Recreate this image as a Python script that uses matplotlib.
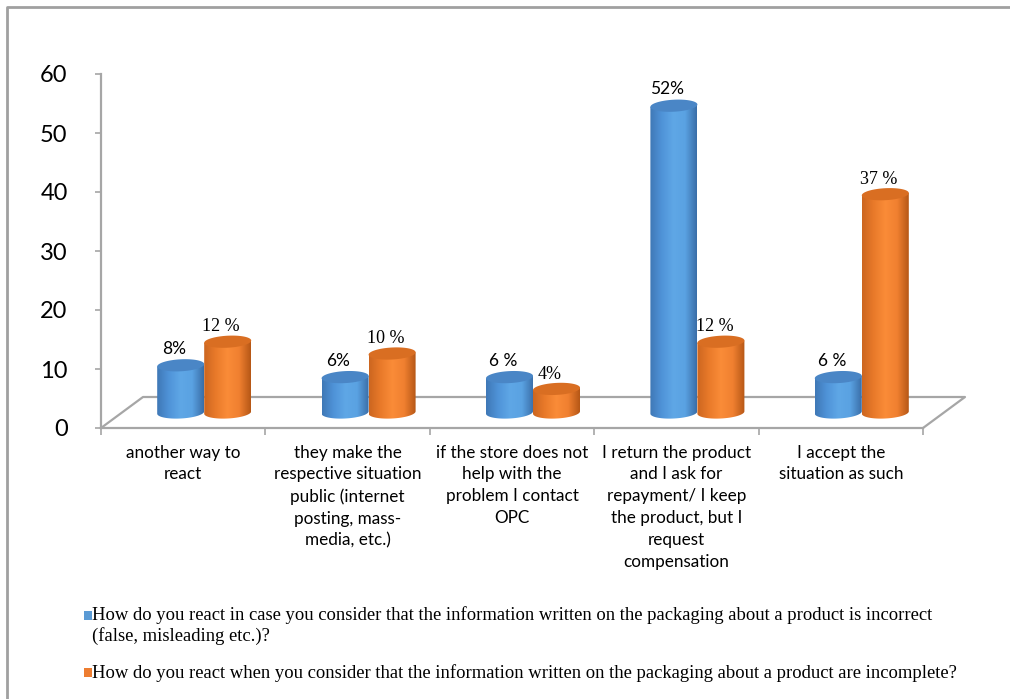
import numpy as np
import matplotlib
matplotlib.use("Agg")
import matplotlib.pyplot as plt
from matplotlib.patches import Polygon, Rectangle
from matplotlib.lines import Line2D
from matplotlib.colors import LinearSegmentedColormap

# Data
categories = ["another way to\nreact",
              "they make the\nrespective situation\npublic (internet\nposting, mass-\nmedia, etc.)",
              "if the store does not\nhelp with the\nproblem I contact\nOPC",
              "I return the product\nand I ask for\nrepayment/ I keep\nthe product, but I\nrequest\ncompensation",
              "I accept the\nsituation as such"]
incorrect = [8, 6, 6, 52, 6]
incomplete = [12, 10, 4, 12, 37]
incorrect_labels = ["8%", "6%", "6 %", "52%", "6 %"]
incomplete_labels = ["12 %", "10 %", "4%", "12 %", "37 %"]
legend_texts = ["How do you react in case you consider that the information written on the packaging about a product is incorrect\n(false, misleading etc.)?",
                "How do you react when you consider that the information written on the packaging about a product are incomplete?"]
yticks = [0, 10, 20, 30, 40, 50, 60]

W, H = 1010, 699
fig = plt.figure(figsize=(W / 100, H / 100), dpi=100)

# axes placed so that 0..5 categories / 0..60 values line up with the reference
ax = fig.add_axes([101 / W, 1 - 428 / H, 822 / W, 354 / H])
ax.set_xlim(0, 5)
ax.set_ylim(0, 60)

grey = "#a6a6a6"
ddx = 42 / 164.4   # depth offset in category units
ddy = 31 / 5.9     # depth offset in value units

# floor of the 3D plot
ax.plot([0, ddx, 5 + ddx, 5], [0, ddy, ddy, 0], color=grey, lw=1.6, clip_on=False, zorder=1)

blue_cmap = LinearSegmentedColormap.from_list("b", ["#3f78b6", "#4f93d8", "#5fa7e6", "#5aa2e2", "#3a6ea8"])
orange_cmap = LinearSegmentedColormap.from_list("o", ["#cc6620", "#e97a2a", "#fa8c38", "#f08030", "#b65716"])


def cylinder(xc, base, h, w, eh, cmap, top_color, z):
    k = 1.4  # slight tilt of the ellipses
    t = np.linspace(np.pi, 2 * np.pi, 60)
    bx = xc + w / 2 * np.cos(t)
    by = base + eh / 2 * np.sin(t) + k * (bx - xc)
    pts = [(xc - w / 2, base + h - k * w / 2)]
    pts += list(zip(bx, by))
    pts += [(xc + w / 2, base + h + k * w / 2)]
    body = Polygon(pts, closed=True, facecolor="none", edgecolor="none")
    ax.add_patch(body)
    grad = np.linspace(0, 1, 200).reshape(1, -1)
    im = ax.imshow(grad, cmap=cmap, aspect="auto", interpolation="bilinear",
                   extent=(xc - w / 2, xc + w / 2, base - eh - 1, base + h + eh + 1),
                   zorder=z)
    im.set_clip_path(body)
    t2 = np.linspace(0, 2 * np.pi, 120)
    tx = xc + w / 2 * np.cos(t2)
    ty = base + h + eh / 2 * np.sin(t2) + k * (tx - xc)
    ax.add_patch(Polygon(list(zip(tx, ty)), closed=True, facecolor=top_color,
                         edgecolor="none", zorder=z + 0.1, clip_on=False))


bw = 47 / 164.4
eh = 12 / 5.9
base = ddy / 2
for i in range(len(categories)):
    c = i + 0.5 + ddx / 2
    xb = c - bw / 2
    xo = c + bw / 2
    cylinder(xb, base, incorrect[i], bw, eh, blue_cmap, "#4a86c6", 3)
    cylinder(xo, base, incomplete[i], bw, eh, orange_cmap, "#d96e22", 4)
    ax.text(xb - 0.04, base + incorrect[i] + 2.8, incorrect_labels[i], ha="center", va="center",
            fontsize=12.5, family="Lato", color="#000000", clip_on=False, zorder=6)
    ax.text(xo - 0.04, base + incomplete[i] + 2.5, incomplete_labels[i], ha="center", va="center",
            fontsize=13, family="Liberation Serif", color="#000000", clip_on=False, zorder=6)
    ax.text(i + 0.5, -2.8, categories[i], ha="center", va="top", fontsize=12.3,
            family="Lato", linespacing=1.45, color="#000000")

ax.set_xlim(0, 5)
ax.set_ylim(0, 60)
ax.set_xticks(range(6))
ax.set_xticklabels([])
ax.set_yticks(yticks)
ax.set_yticklabels([str(v) for v in yticks], fontsize=17, family="Lato")
ax.tick_params(axis="x", length=5, color=grey, width=1.2)
ax.tick_params(axis="y", length=4, color=grey, width=1.2, pad=20)
for s in ["top", "right"]:
    ax.spines[s].set_visible(False)
for s in ["left", "bottom"]:
    ax.spines[s].set_color(grey)
    ax.spines[s].set_linewidth(1.6)
ax.patch.set_alpha(0)

# legend drawn by hand below the plot
fig.patches.append(Rectangle((84 / W, 1 - 620 / H), 8 / W, 9 / H, transform=fig.transFigure,
                             facecolor="#5b9bd5", edgecolor="none"))
fig.patches.append(Rectangle((84 / W, 1 - 677 / H), 8 / W, 9 / H, transform=fig.transFigure,
                             facecolor="#ed7d31", edgecolor="none"))
fig.text(92 / W, 1 - 606 / H, legend_texts[0], ha="left", va="top", fontsize=13.4,
         family="Liberation Serif", linespacing=1.2)
fig.text(92 / W, 1 - 673 / H, legend_texts[1], ha="left", va="center", fontsize=13.4,
         family="Liberation Serif")

# outer frame (left and top edges visible)
fig.lines.append(Line2D([7 / W, 7 / W, 1], [0, 1 - 7 / H, 1 - 7 / H], transform=fig.transFigure,
                        color="#a0a0a0", lw=2))

fig.savefig("out.png", dpi=100)
